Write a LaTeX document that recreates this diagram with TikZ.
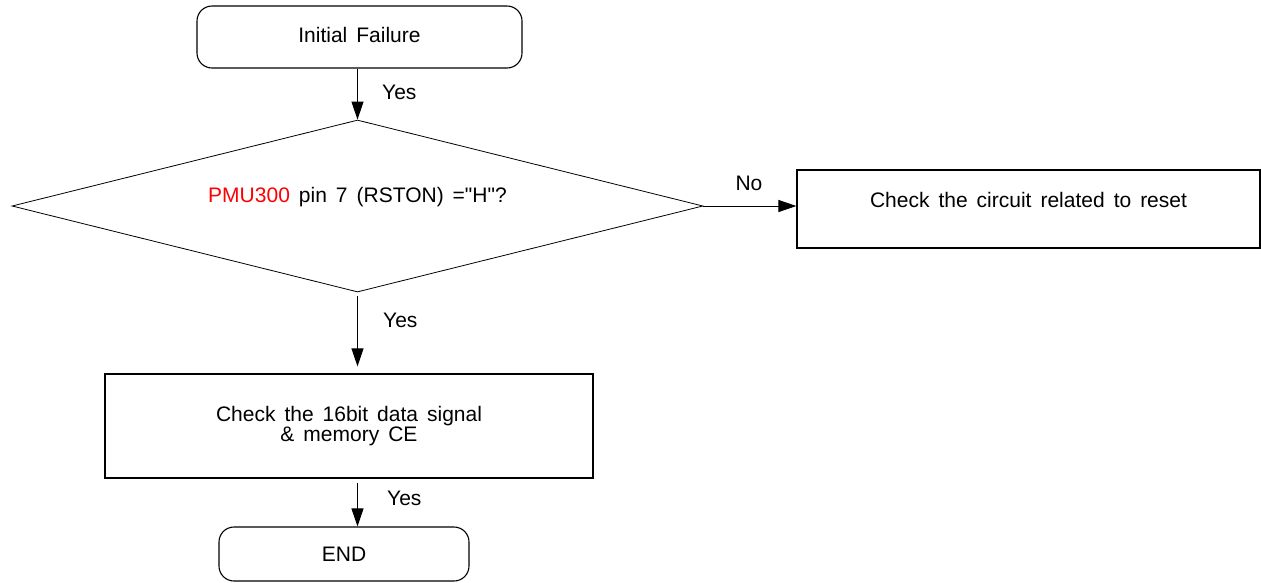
\documentclass[tikz,border=0pt]{standalone}
\usepackage{fontspec}
\setmainfont{Liberation Sans}[Ligatures=TeXOff]
\usetikzlibrary{shapes.geometric,arrows.meta}
\begin{document}
\begin{tikzpicture}[x=1pt,y=-1pt,
  every node/.style={font=\fontsize{21}{20}\selectfont, inner sep=0pt, execute at begin node={\spaceskip=9pt\relax}},
  term/.style={draw, line width=1.1pt, rounded corners=15pt},
  procbox/.style={draw, line width=1.2pt},
  decision/.style={draw, line width=0.8pt, diamond, aspect=4},
  arr/.style={line width=1pt, -{Triangle[length=18pt,width=12pt]}},
  lbl/.style={anchor=west}
]
\useasboundingbox (0,0) rectangle (1261,582);
\node[term, minimum width=325pt, minimum height=62pt, text depth=5pt] (init) at (359.5,37) {Initial Failure};
\node[decision, minimum width=691pt, minimum height=172pt, text height=15pt, text depth=23pt] (dia) at (357.5,206) {\textcolor{red}{PMU300} pin 7 (RSTON) ="H"?};
\node[procbox, minimum width=463pt, minimum height=78pt, text height=15pt, text depth=19pt] (circ) at (1028.5,209) {Check the circuit related to reset};
\node[procbox, minimum width=488pt, minimum height=104pt, align=center] (chk) at (349,426) {Check the 16bit data signal\\ \& memory CE};
\node[term, minimum width=250pt, minimum height=54pt] (fin) at (344,554) {END};

\draw[arr] (init.south -| dia.north) -- (dia.north);
\draw[arr, shorten <=4pt, shorten >=7pt] (dia.south) -- (dia.south |- chk.north);
\draw[arr, shorten <=4pt] (dia.south |- chk.south) -- (dia.south |- fin.north);
\draw[arr] (dia.east) -- (dia.east -| circ.west);

\node[lbl] (y1) at (382,92.5) {Yes};
\node[lbl] (y2) at (383,320) {Yes};
\node[lbl] (y3) at (387,498) {Yes};
\node (no) at (749,183) {No};
\end{tikzpicture}
\end{document}
